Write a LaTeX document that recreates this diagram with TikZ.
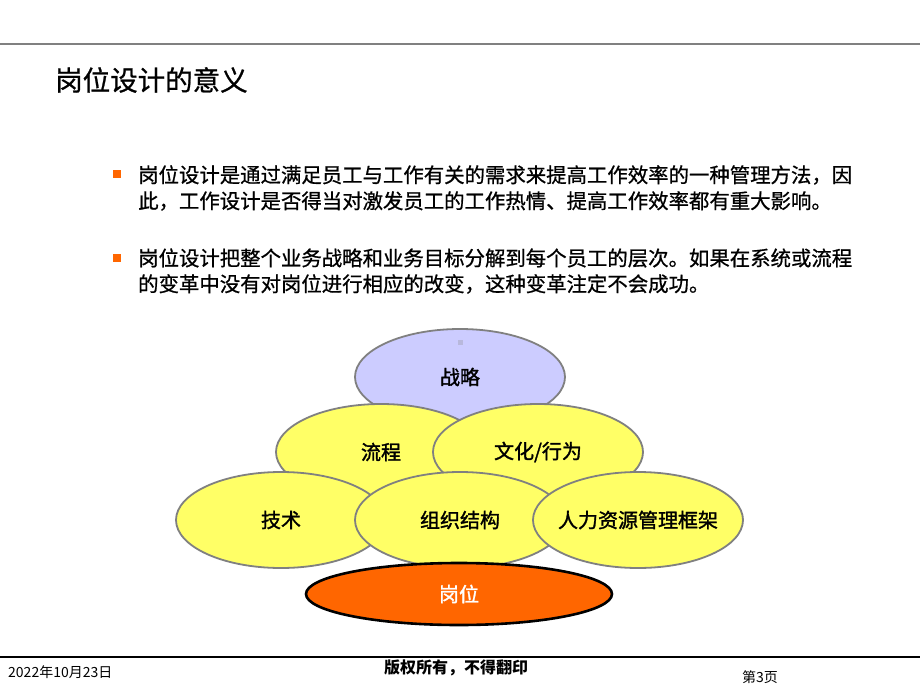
\documentclass[tikz,border=0pt]{standalone}
\usepackage{fontspec}
\setmainfont{Noto Sans CJK SC}
\newfontfamily\heavycjk[FakeBold=1.5]{Noto Sans CJK SC}
\newfontfamily\midcjk[FakeBold=0.8]{Noto Sans CJK SC}
\usetikzlibrary{shapes.geometric}
\definecolor{lav}{HTML}{CCCCFF}
\definecolor{yel}{HTML}{FFFF66}
\definecolor{org}{HTML}{FF6600}
\definecolor{rim}{HTML}{808080}
\definecolor{dot}{HTML}{B8B8DC}
\tikzset{
  oval/.style={ellipse, draw=rim, line width=1.8pt, minimum width=210pt, minimum height=96pt, inner sep=0pt,
    font=\heavycjk\fontsize{20}{24}\selectfont},
  yoval/.style={oval, fill=yel},
  boval/.style={oval, fill=lav},
  joboval/.style={ellipse, draw=black, line width=2.6pt, fill=org, minimum width=306pt, minimum height=62pt,
    inner sep=0pt, text=white, font=\heavycjk\fontsize{20}{24}\selectfont},
  bodytext/.style={anchor=west, inner sep=0pt, font=\midcjk\fontsize{20.4}{24}\selectfont},
  bulletsq/.style={fill=org, minimum size=8.5pt, inner sep=0pt},
  foot/.style={inner sep=0pt, font=\fontsize{14}{16}\selectfont}
}
\begin{document}
\begin{tikzpicture}[x=1pt,y=-1pt]
\useasboundingbox (0,0) rectangle (920,690);
\fill[white] (0,0) rectangle (920,690);
% top rule
\coordinate (tl) at (0,44);
\coordinate (tr) at (920,44);
\draw[rim, line width=2pt] (tl) -- (tr);
% title
\node[anchor=west, inner sep=0pt, font=\midcjk\fontsize{27.5}{30}\selectfont] (title) at (55,80) {岗位设计的意义};
% bullets
\node[bulletsq] (b1) at (117,174) {};
\node[bodytext] (t1a) at (138,175) {岗位设计是通过满足员工与工作有关的需求来提高工作效率的一种管理方法，因};
\node[bodytext] (t1b) at (138,201) {此，工作设计是否得当对激发员工的工作热情、提高工作效率都有重大影响。};
\node[bulletsq] (b2) at (117,258) {};
\node[bodytext] (t2a) at (138,258) {岗位设计把整个业务战略和业务目标分解到每个员工的层次。如果在系统或流程};
\node[bodytext] (t2b) at (138,284) {的变革中没有对岗位进行相应的改变，这种变革注定不会成功。};
% ellipses
\node[boval] (strat) at (460,377) {战略};
\node[fill=dot, minimum size=5pt, inner sep=0pt] (sq) at (460,342) {};
\node[yoval] (proc) at (381,452) {流程};
\node[yoval] (cult) at (538,452) {文化/行为};
\node[yoval] (tech) at (281,520) {技术};
\node[yoval] (org) at (460,520) {组织结构};
\node[yoval] (hr) at (638,520) {\makebox[0pt]{人力资源管理框架}};
\node[joboval] (job) at (459,594) {岗位};
% footer
\coordinate (fl) at (0,657);
\coordinate (fr) at (920,657);
\draw[black, line width=1.5pt] (fl) -- (fr);
\node[foot, anchor=west] (date) at (8,672) {2022年10月23日};
\node[foot, font=\fontsize{16}{18}\selectfont\bfseries] (copy) at (456,668) {版权所有，不得翻印};
\node[foot, anchor=west] (page) at (742,677) {第3页};
\end{tikzpicture}
\end{document}
